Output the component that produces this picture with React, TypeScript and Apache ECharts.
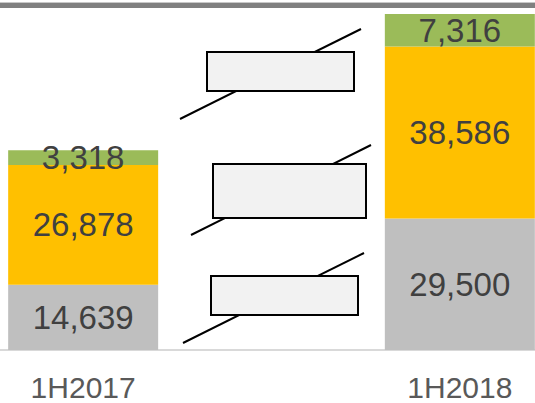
import React, { useEffect, useRef } from "react";
import * as echarts from "echarts";

const categories = ["1H2017", "", "1H2018"];
const baseValues = [14639, null, 29500];
const midValues = [26878, null, 38586];
const topValues = [3318, null, 7316];
const seriesColors = ["#bfbfbf", "#ffc000", "#9bbb59"];

const fmt = (v: number) => v.toLocaleString("en-US");

export default function App() {
  const ref = useRef<HTMLDivElement>(null);
  useEffect(() => {
    if (!ref.current) return;
    const chart = echarts.init(ref.current, undefined, { renderer: "svg" });
    const label = {
      show: true,
      position: "inside" as const,
      color: "#404040",
      fontSize: 33,
      fontFamily: "Liberation Sans",
      formatter: (p: any) => fmt(p.value),
    };
    const mk = (name: string, data: any[], color: string) => ({
      name,
      type: "bar",
      stack: "total",
      data,
      barWidth: 150,
      clip: false,
      itemStyle: { color },
      label,
    });
    const breakLines = [
      [180, 119, 361, 29],
      [191, 235, 371, 145],
      [183, 343, 364, 253],
    ];
    const boxes = [
      [207, 52, 147, 39],
      [213, 164, 153, 54],
      [211, 276, 147, 39],
    ];
    chart.setOption({
      animation: false,
      grid: {
        left: -11,
        right: -19,
        top: 14,
        bottom: 53,
        containLabel: false,
        outerBoundsMode: "none",
      },
      xAxis: {
        type: "category",
        data: categories,
        axisLine: { lineStyle: { color: "#d9d9d9", width: 2 } },
        axisTick: { show: false },
        axisLabel: {
          color: "#595959",
          fontSize: 30,
          lineHeight: 26,
          fontFamily: "Liberation Sans",
          margin: 24,
        },
      },
      yAxis: {
        type: "value",
        min: 0,
        max: 75402,
        show: false,
        splitLine: { show: false },
      },
      series: [
        mk("base", baseValues, seriesColors[0]),
        mk("mid", midValues, seriesColors[1]),
        mk("top", topValues, seriesColors[2]),
      ],
      graphic: [
        { type: "rect", left: 0, top: 2, shape: { width: 535, height: 1 }, style: { fill: "#c8c8c8" } },
        { type: "rect", left: 0, top: 3, shape: { width: 535, height: 5 }, style: { fill: "#808080" } },
        ...breakLines.map((l) => ({
          type: "line",
          shape: { x1: l[0], y1: l[1], x2: l[2], y2: l[3] },
          style: { stroke: "#000", lineWidth: 2 },
        })),
        ...boxes.map((b) => ({
          type: "rect",
          shape: { x: b[0], y: b[1], width: b[2], height: b[3] },
          style: { fill: "#f2f2f2", stroke: "#000", lineWidth: 2 },
        })),
      ],
    });
    return () => chart.dispose();
  }, []);
  return (
    <div
      ref={ref}
      style={{ position: "absolute", left: 0, top: 0, width: 535, height: 403 }}
    />
  );
}
